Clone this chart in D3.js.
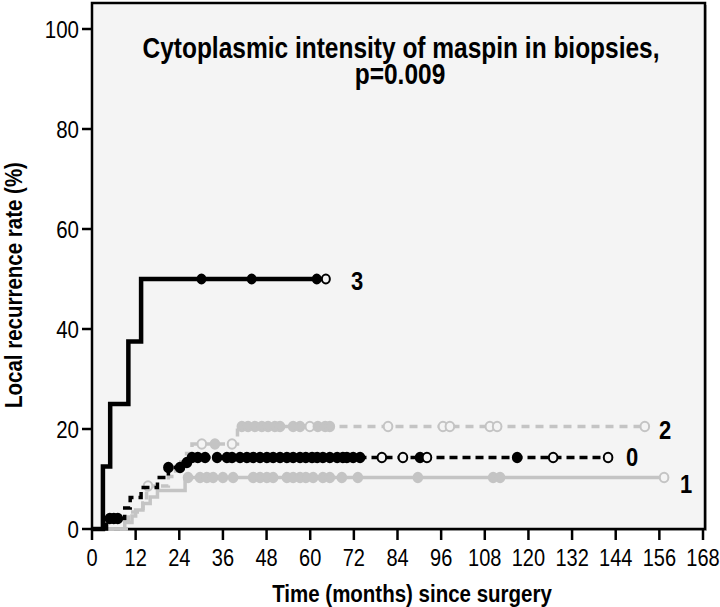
<!DOCTYPE html>
<html><head><meta charset="utf-8">
<script src="https://cdn.jsdelivr.net/npm/d3@7"></script>
<style>body{margin:0;background:#fff}svg{display:block}text{font-family:"Liberation Sans",Arial,sans-serif}</style>
</head><body>
<svg id="c" width="720" height="607"></svg>
<script>
// ---- data ----
const groupLabels = ["0", "1", "2", "3"];
const xTicks = [0,12,24,36,48,60,72,84,96,108,120,132,144,156,168];
const yTicks = [0,20,40,60,80,100];

// group 0 (black dashed)
const times0 = [0, 4, 9, 10.5, 13.5, 18, 21, 24.5, 27];
const rates0 = [0, 2.1, 4.2, 6.3, 8.3, 10.3, 12.3, 13.3, 14.3];
const censor0 = [4.9, 6, 7.1, 21, 24.2, 26.1, 27.5, 29.1, 31.1, 34.4, 37.1, 38.5, 40.7, 42.6, 44.3, 46.2, 48.1, 49.8, 51.7, 53.6, 55.3, 57.2, 58.8, 60.5, 61.9, 63.5, 65.4, 67.4, 69, 70.1, 71.8, 73.7, 79.7, 85.5, 90.2, 92.1, 116.9, 126.8, 141.9];
const open0 = [79.7, 85.5, 92.1, 126.8, 141.9];

// group 1 (grey solid)
const times1 = [0, 9, 11, 12, 14, 16, 18, 25.6];
const rates1 = [0, 1.3, 2.6, 3.8, 5.1, 6.4, 7.7, 10.3];
const censor1 = [26.4, 29.7, 31.6, 33.3, 36, 38.8, 44.3, 46.2, 48.1, 49.8, 53.6, 55.3, 57.2, 58.8, 60.8, 63.5, 65.4, 68.7, 73.1, 89.6, 110.3, 112.2, 157.3];
const open1 = [157.3];

// group 2 (grey dashed)
const times2 = [0, 10, 14, 15, 21, 23, 26, 27.5, 40];
const rates2 = [0, 3.4, 5.2, 8.6, 10.5, 13.4, 15.1, 17.0, 20.5];
const censor2 = [15.4, 30.2, 33.8, 38.5, 41.2, 42.9, 44.8, 46.7, 48.4, 50.3, 51.7, 55.3, 57.2, 59.9, 62.1, 64.1, 65.4, 81.4, 96.5, 98.4, 109.4, 111.4, 152];
const open2 = [15.4, 30.2, 38.5, 59.9, 81.4, 96.5, 98.4, 109.4, 111.4, 152];

// group 3 (black solid)
const times3 = [0, 3, 5, 10, 13.5];
const rates3 = [0, 12.5, 25, 37.5, 50];
const censor3 = [30.1, 43.9, 61.8, 64.3];
const open3 = [64.3];

// ---- layout ----
const svg = d3.select("#c");
const x = d3.scaleLinear().domain([0, 168]).range([92, 703]);
const y = d3.scaleLinear().domain([0, 100]).range([529, 29]);
const grey = "#c4c4c4";
const SY = 1.2; // glyphs are taller than Arial in the reference

function txt(px, py, str, size, weight, anchor, rot) {
  return svg.append("text")
    .attr("transform", `translate(${px},${py}) rotate(${rot || 0}) scale(1,${SY})`)
    .attr("text-anchor", anchor || "middle")
    .attr("font-size", size).attr("font-weight", weight || "normal")
    .attr("fill", "#000").text(str);
}

// background & frame
svg.append("rect").attr("x", 94).attr("y", 5).attr("width", 613).attr("height", 526).attr("fill", "#bdbdbd");
svg.append("rect").attr("x", 92).attr("y", 3).attr("width", 613).attr("height", 526)
  .attr("fill", "#f4f4f4").attr("stroke", "#000").attr("stroke-width", 2.5);

// axes (ticks via scales)
const gy = svg.append("g");
gy.selectAll("line").data(yTicks).join("line")
  .attr("x1", 82).attr("x2", 92).attr("y1", d => y(d)).attr("y2", d => y(d))
  .attr("stroke", "#000").attr("stroke-width", 2.5);
yTicks.forEach(d => txt(79, y(d) + 8.5, String(d), 20.5, "normal", "end"));

const gx = svg.append("g");
gx.selectAll("line").data(xTicks).join("line")
  .attr("x1", d => x(d)).attr("x2", d => x(d)).attr("y1", 529).attr("y2", 540)
  .attr("stroke", "#000").attr("stroke-width", 2.5);
xTicks.forEach(d => txt(x(d), 566, String(d), 20, "normal", "middle"));

// titles
txt(401, 58, "Cytoplasmic intensity of maspin in biopsies,", 24.5, "bold");
txt(400, 84, "p=0.009", 24.5, "bold");
txt(412, 602, "Time (months) since surgery", 20.5, "bold");
txt(22, 285, "Local recurrence rate (%)", 20.5, "bold", "middle", -90);

// curves
const line = d3.line().x(d => x(d[0])).y(d => y(d[1])).curve(d3.curveStepAfter);
function series(times, rates, censor) {
  const pts = times.map((t, i) => [t, rates[i]]);
  const end = d3.max(censor);
  pts.push([end, rates[rates.length - 1]]);
  return pts;
}
function valAt(times, rates, t) {
  let v = 0;
  times.forEach((tt, i) => { if (tt <= t) v = rates[i]; });
  return v;
}
const groups = [
  {times: times1, rates: rates1, censor: censor1, open: open1, color: grey, width: 3.5, dash: null, r: 4.3},
  {times: times2, rates: rates2, censor: censor2, open: open2, color: grey, width: 3.5, dash: "8,6", r: 4.3},
  {times: times0, rates: rates0, censor: censor0, open: open0, color: "#000", width: 3.5, dash: "8,5", r: 4.3},
  {times: times3, rates: rates3, censor: censor3, open: open3, color: "#000", width: 4.5, dash: null, r: 4}
];
groups.forEach(g => {
  svg.append("path").attr("d", line(series(g.times, g.rates, g.censor)))
    .attr("fill", "none").attr("stroke", g.color).attr("stroke-width", g.width)
    .attr("stroke-dasharray", g.dash);
  svg.append("g").selectAll("ellipse").data(g.censor).join("ellipse")
    .attr("cx", d => x(d)).attr("cy", d => y(valAt(g.times, g.rates, d)))
    .attr("rx", g.r).attr("ry", g.r * 1.1)
    .attr("fill", d => g.open.includes(d) ? "#f4f4f4" : g.color)
    .attr("stroke", g.color).attr("stroke-width", 2);
});

// group labels
const labPos = [[0, 632, 466], [1, 686, 493], [2, 665, 439], [3, 357, 290]];
labPos.forEach(p => txt(p[1], p[2], groupLabels[p[0]], 22, "bold"));
</script>
</body></html>
